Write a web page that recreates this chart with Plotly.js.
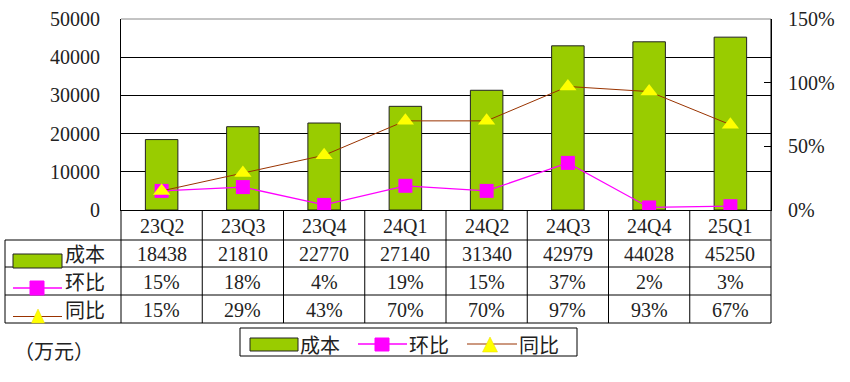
<!DOCTYPE html>
<html>
<head>
<meta charset="utf-8">
<script src="https://cdn.plot.ly/plotly-3.0.1.min.js"></script>
<style>html,body{margin:0;padding:0;background:#fff;}#chart{width:850px;height:382px;}</style>
</head>
<body>
<div id="chart"></div>
<script>
const categories = ['23Q2','23Q3','23Q4','24Q1','24Q2','24Q3','24Q4','25Q1'];
const cost = [18438, 21810, 22770, 27140, 31340, 42979, 44028, 45250];
const qoq = [0.15, 0.18, 0.04, 0.19, 0.15, 0.37, 0.02, 0.03];
const yoy = [0.15, 0.29, 0.43, 0.70, 0.70, 0.97, 0.93, 0.67];
const seriesNames = ['成本', '环比', '同比'];
const unitLabel = '（万元）';

const NUMFONT = 'Liberation Serif';
const CJKFONT = 'Noto Sans CJK SC';
const TXT = '#222';
const GREEN = '#99CC00';
const MAGENTA = '#FF00FF';
const BROWN = '#993300';
const YELLOW = '#FFFF00';

// plot area in pixels
const L = 121, R = 771, T = 19, B = 210;
const px = x => (x - L) / (R - L);
const py = y => (B - y) / (B - T);

const traces = [
  {type:'bar', x:categories, y:cost, name:seriesNames[0], width:0.4,
   marker:{color:GREEN, line:{color:'#222', width:1}}, hoverinfo:'skip'},
  {type:'scatter', mode:'lines+markers', x:categories, y:qoq, yaxis:'y2', name:seriesNames[1],
   line:{color:MAGENTA, width:1.3}, marker:{symbol:'square', size:14, color:MAGENTA}, hoverinfo:'skip'},
  {type:'scatter', mode:'lines+markers', x:categories, y:yoy, yaxis:'y2', name:seriesNames[2],
   line:{color:BROWN, width:1}, marker:{symbol:'triangle-up', size:15, color:YELLOW}, hoverinfo:'skip'}
];

const shapes = [];
const annotations = [];
const line = (x0,y0,x1,y1,color,w,xref) => shapes.push({type:'line', xref:xref||'paper', yref:'paper',
  x0:x0, y0:y0, x1:x1, y1:y1, line:{color:color||'#000', width:w||1}, layer:'above'});

// top border grey
line(0, 1, 1, 1, '#888', 1);
// table lines
[240, 267, 295, 323].forEach(y => line(px(5), py(y), 1, py(y)));
line(px(5), py(240), px(5), py(323));
line(0, py(323), 0, 0);
line(1, py(323), 1, 1);
for (let k = 1; k < categories.length; k++) line(k - 0.5, py(323), k - 0.5, 0, '#000', 1, 'x');

// table values
const rows = [
  {vals: cost.map(v => String(v)), y: 253.5},
  {vals: qoq.map(v => Math.round(v*100) + '%'), y: 281.5},
  {vals: yoy.map(v => Math.round(v*100) + '%'), y: 309.5}
];
rows.forEach(r => r.vals.forEach((t, i) => annotations.push({xref:'x', yref:'paper', x:categories[i], y:py(r.y),
  text:t, showarrow:false, font:{family:NUMFONT, size:20, color:TXT}, xanchor:'center', yanchor:'middle'})));
// category row
categories.forEach(c => annotations.push({xref:'x', yref:'paper', x:c, y:py(225.5), text:c, showarrow:false,
  font:{family:NUMFONT, size:20, color:TXT}, xanchor:'center', yanchor:'middle'}));

// row headers with symbols
const rect = (x0,y0,x1,y1,fill,lc) => shapes.push({type:'rect', xref:'paper', yref:'paper',
  x0:px(x0), y0:py(y0), x1:px(x1), y1:py(y1), fillcolor:fill, line:{color:lc||fill, width:1}, layer:'above'});
const tri = (cx, cy, w, h, fill) => shapes.push({type:'path', xref:'paper', yref:'paper',
  path:`M ${px(cx-w/2)},${py(cy+h/2)} L ${px(cx+w/2)},${py(cy+h/2)} L ${px(cx)},${py(cy-h/2)} Z`,
  fillcolor:fill, line:{color:'#e8d800', width:0.5}, layer:'above'});
const label = (x, y, t) => annotations.push({xref:'paper', yref:'paper', x:px(x), y:py(y), text:t, showarrow:false,
  xanchor:'left', yanchor:'middle', font:{family:CJKFONT, size:20, color:TXT}});

rect(13, 254, 62, 268, GREEN, '#222');
label(63, 253, seriesNames[0]);
line(px(13), py(288), px(62), py(288), MAGENTA, 1.3);
rect(30, 281, 44, 295, MAGENTA);
label(63, 281, seriesNames[1]);
line(px(13), py(316.5), px(62), py(316.5), BROWN, 1);
tri(38, 316, 13, 14, YELLOW);
label(63, 309, seriesNames[2]);

// bottom legend
shapes.push({type:'rect', xref:'paper', yref:'paper', x0:px(240), y0:py(328), x1:px(577), y1:py(356),
  fillcolor:'rgba(0,0,0,0)', line:{color:'#000', width:1}, layer:'above'});
rect(250, 338, 298, 351, GREEN, '#222');
label(298, 344, seriesNames[0]);
line(px(358), py(344), px(407), py(344), MAGENTA, 1.3);
rect(375, 338, 389, 351, MAGENTA);
label(407, 344, seriesNames[1]);
line(px(467), py(344), px(517), py(344), BROWN, 1);
tri(490, 344.5, 15, 15, YELLOW);
label(517, 344, seriesNames[2]);

// unit label
label(12, 350, unitLabel);

const layout = {
  width:850, height:382,
  margin:{l:L, r:850-R, t:T, b:382-B, pad:0},
  paper_bgcolor:'#fff', plot_bgcolor:'#fff',
  showlegend:false,
  bargap:0.6,
  font:{family:NUMFONT, size:20, color:TXT},
  xaxis:{type:'category', range:[-0.5, categories.length-0.5], showticklabels:false, ticks:'',
    showline:true, linecolor:'#000', linewidth:1, showgrid:false, zeroline:false, fixedrange:true},
  yaxis:{range:[0, 50000], dtick:10000, tick0:0, tickformat:'d', showgrid:true, gridcolor:'#000', gridwidth:1,
    showline:true, linecolor:'#000', linewidth:1, ticks:'', zeroline:false,
    tickfont:{family:NUMFONT, size:20, color:TXT}, ticklabelstandoff:16, fixedrange:true},
  yaxis2:{overlaying:'y', side:'right', range:[0, 1.5], dtick:0.5, tick0:0, tickformat:'.0%',
    showgrid:false, zeroline:false, showline:true, linecolor:'#000', linewidth:1,
    ticks:'inside', ticklen:7, tickcolor:'#000', tickwidth:1,
    tickfont:{family:NUMFONT, size:20, color:TXT}, ticklabelstandoff:12, fixedrange:true},
  shapes:shapes,
  annotations:annotations
};

Plotly.newPlot('chart', traces, layout, {displayModeBar:false, staticPlot:true});
</script>
</body>
</html>
